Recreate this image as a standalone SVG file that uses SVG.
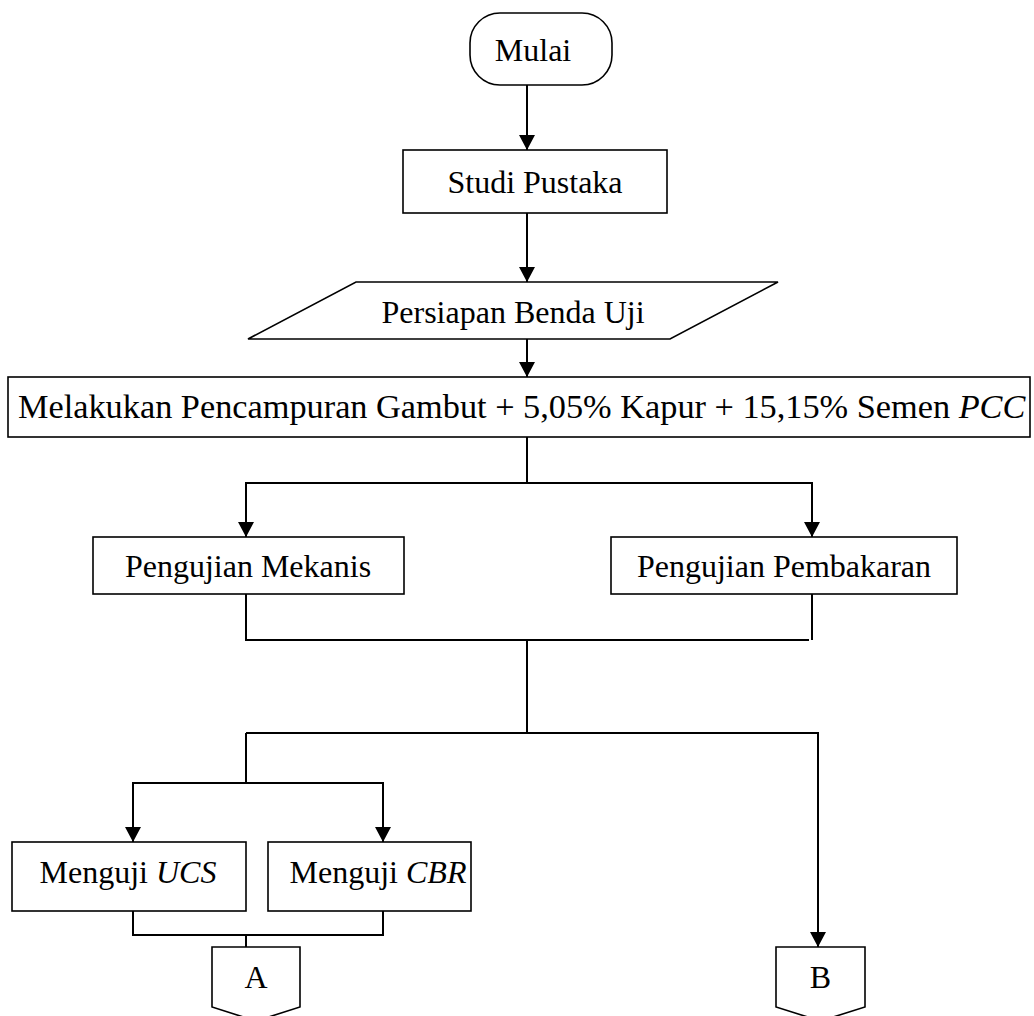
<svg xmlns="http://www.w3.org/2000/svg" width="1034" height="1016" viewBox="0 0 1034 1016">
<style>
.shape{fill:#fff;stroke:#000;stroke-width:1.6}
.t{font-family:"Liberation Serif","Times New Roman",serif;font-size:32px;fill:#000;text-anchor:middle}
.c{fill:none;stroke:#000;stroke-width:2}
.a{marker-end:url(#arr)}
</style>
<defs>
<marker id="arr" markerUnits="userSpaceOnUse" viewBox="0 0 15 16" refX="15" refY="8" markerWidth="15" markerHeight="16" orient="auto">
<path d="M0,0 L15,8 L0,16 z" fill="#000"/>
</marker>
</defs>
<rect width="1034" height="1016" fill="#fff"/>
<g id="connectors">
<line class="c a" x1="527" y1="85" x2="527" y2="150"/>
<line class="c a" x1="527" y1="213" x2="527" y2="282"/>
<line class="c a" x1="527" y1="339" x2="527" y2="377"/>
<polyline class="c" points="527,437 527,483"/>
<polyline class="c a" points="527,483 246,483 246,537"/>
<polyline class="c a" points="527,483 812,483 812,537"/>
<polyline class="c" points="246,594 246,640 809,640"/>
<line class="c" x1="812" y1="594" x2="812" y2="640"/>
<line class="c" x1="527" y1="640" x2="527" y2="733"/>
<polyline class="c a" points="246,733 818,733 818,947"/>
<line class="c" x1="246" y1="733" x2="246" y2="783"/>
<polyline class="c a" points="246,783 133,783 133,842"/>
<polyline class="c a" points="246,783 383,783 383,842"/>
<polyline class="c" points="133,911 133,935 383,935 383,911"/>
<line class="c" x1="246" y1="935" x2="246" y2="947"/>
</g>
<g id="mulai">
<rect class="shape" x="470" y="13" width="142" height="72" rx="30" ry="30"/>
<text class="t" x="533" y="61">Mulai</text>
</g>
<g id="studi-pustaka">
<rect class="shape" x="403" y="150" width="264" height="63"/>
<text class="t" x="535" y="193">Studi Pustaka</text>
</g>
<g id="persiapan">
<polygon class="shape" points="356,282 778,282 670,339 248,339"/>
<text class="t" x="513" y="323">Persiapan Benda Uji</text>
</g>
<g id="pencampuran">
<rect class="shape" x="8" y="377" width="1022" height="60"/>
<text class="t" x="18" y="418" style="text-anchor:start;font-size:34.3px">Melakukan Pencampuran Gambut + 5,05% Kapur + 15,15% Semen <tspan font-style="italic">PCC</tspan></text>
</g>
<g id="mekanis">
<rect class="shape" x="93" y="537" width="311" height="57"/>
<text class="t" x="248" y="577">Pengujian Mekanis</text>
</g>
<g id="pembakaran">
<rect class="shape" x="611" y="537" width="346" height="57"/>
<text class="t" x="784" y="577">Pengujian Pembakaran</text>
</g>
<g id="ucs">
<rect class="shape" x="12" y="842" width="234" height="69"/>
<text class="t" x="128" y="883">Menguji <tspan font-style="italic">UCS</tspan></text>
</g>
<g id="cbr">
<rect class="shape" x="268" y="842" width="203" height="69"/>
<text class="t" x="378" y="883">Menguji <tspan font-style="italic">CBR</tspan></text>
</g>
<g id="connector-a">
<polygon class="shape" points="212,947 300,947 300,1007 256,1021 212,1007"/>
<text class="t" x="256" y="988">A</text>
</g>
<g id="connector-b">
<polygon class="shape" points="776,947 865,947 865,1007 820.5,1021 776,1007"/>
<text class="t" x="820.5" y="988">B</text>
</g>
</svg>
